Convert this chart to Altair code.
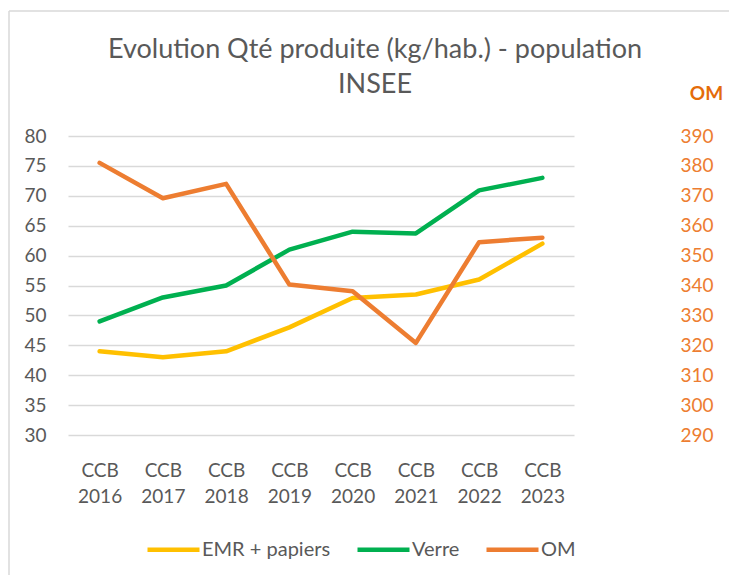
import altair as alt
import pandas as pd

years = ["CCB 2016", "CCB 2017", "CCB 2018", "CCB 2019", "CCB 2020", "CCB 2021", "CCB 2022", "CCB 2023"]
emr = [44.0, 43.0, 44.0, 48.0, 52.9, 53.5, 56.0, 62.0]
verre = [49.0, 53.0, 55.0, 61.0, 64.0, 63.7, 70.9, 73.0]
om = [381.0, 369.2, 374.0, 340.3, 338.1, 320.8, 354.5, 356.0]

series = ["EMR + papiers", "Verre", "OM"]
colors = ["#FFC000", "#00B050", "#ED7D31"]
left_ticks = list(range(30, 81, 5))
right_ticks = list(range(290, 391, 10))

FONT = "Lato"
GRAY = "#595959"

left_df = pd.DataFrame({
    "annee": years * 2,
    "serie": ["EMR + papiers"] * len(years) + ["Verre"] * len(years),
    "valeur": emr + verre,
})
right_df = pd.DataFrame({"annee": years, "serie": ["OM"] * len(years), "valeur": om})

x = alt.X(
    "annee:N",
    sort=years,
    scale=alt.Scale(type="point", padding=0.5),
    axis=alt.Axis(
        title=None, labelExpr="split(datum.label, ' ')", labelAngle=0, ticks=False,
        domain=False, grid=False, labelPadding=26, labelLineHeight=26,
        labelFontSize=19, labelColor=GRAY, labelFont=FONT,
    ),
)

color = alt.Color(
    "serie:N",
    scale=alt.Scale(domain=series, range=colors),
    legend=alt.Legend(
        title=None, orient="none", legendX=77, legendY=385, direction="horizontal",
        symbolType="stroke", symbolSize=2704, symbolStrokeWidth=4.5,
        labelFontSize=20, labelColor=GRAY, labelFont=FONT,
        columnPadding=17, labelOffset=0,
    ),
)

line_kw = dict(strokeWidth=4.5, strokeCap="round", strokeJoin="round")

left = alt.Chart(left_df).mark_line(**line_kw).encode(
    x=x,
    y=alt.Y(
        "valeur:Q",
        scale=alt.Scale(domain=[30, 80], nice=False, zero=False),
        axis=alt.Axis(
            title=None, values=left_ticks, grid=True, gridColor="#D9D9D9", gridWidth=1.3,
            ticks=False, domain=False, labelPadding=22, labelFontSize=19,
            labelColor=GRAY, labelFont=FONT,
        ),
    ),
    color=color,
)

right = alt.Chart(right_df).mark_line(**line_kw).encode(
    x=x,
    y=alt.Y(
        "valeur:Q",
        scale=alt.Scale(domain=[290, 390], nice=False, zero=False),
        axis=alt.Axis(
            orient="right", title="OM", titleAngle=0, titleFontWeight="bold",
            titleColor="#E46C0A", titleFont=FONT, titleFontSize=19,
            titleX=132, titleY=-43, titleAlign="center", titleBaseline="middle",
            values=right_ticks, grid=False, ticks=False, domain=False,
            labelPadding=106, labelAlign="left", labelFontSize=19,
            labelColor="#ED7D31", labelFont=FONT,
        ),
    ),
    color=color,
)

border_top = alt.Chart(pd.DataFrame({"k": [0]})).mark_rule(color="#D9D9D9", strokeWidth=1.5).encode(
    x=alt.value(-59), x2=alt.value(669), y=alt.value(-125)
)
border_left = alt.Chart(pd.DataFrame({"k": [0]})).mark_rule(color="#D9D9D9", strokeWidth=1.5).encode(
    x=alt.value(-59), y=alt.value(-125), y2=alt.value(445)
)

chart = (
    alt.layer(border_top, border_left, left, right)
    .resolve_scale(y="independent")
    .properties(
        width=506,
        height=299,
        autosize=alt.AutoSizeParams(type="none"),
        padding={"left": 60, "top": 128, "right": 155, "bottom": 140},
        view=alt.ViewBackground(strokeWidth=0, stroke="transparent"),
        title=alt.TitleParams(
            text=["Evolution Qté produite (kg/hab.) - population", "INSEE"],
            fontSize=27, font=FONT, color=GRAY, fontWeight="normal",
            anchor="middle", frame="group", dx=54, dy=127, offset=38, lineHeight=35,
        ),
    )
    .configure_view(strokeWidth=0, stroke="transparent")
    .configure(background="white")
)

chart.save("out.html", embed_options={"renderer": "svg", "actions": False})
